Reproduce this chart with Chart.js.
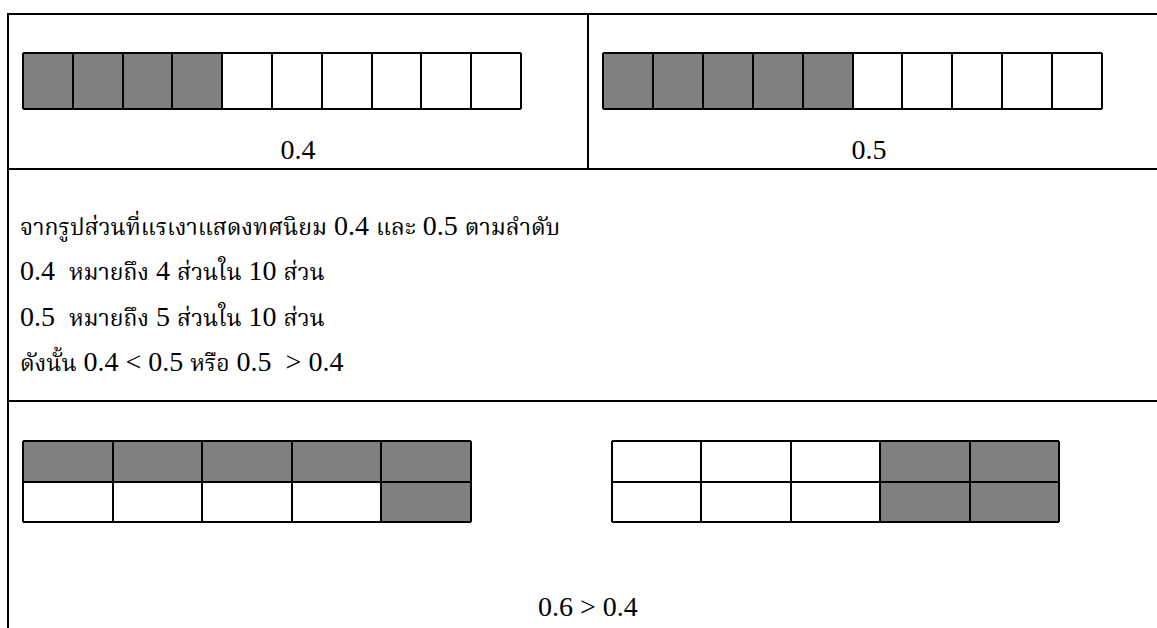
<!DOCTYPE html>
<html><head><meta charset="utf-8">
<script src="https://cdn.jsdelivr.net/npm/chart.js@4"></script>
<style>
html,body{margin:0;padding:0;background:#fff;}
body{width:1157px;height:628px;position:relative;overflow:hidden;font-family:"Liberation Serif","Times New Roman",serif;font-size:28px;color:#000;}
.hl{position:absolute;height:2px;background:#000;}
.vl{position:absolute;width:2px;background:#000;}
.t{position:absolute;line-height:28px;white-space:pre;}
.c{text-align:center;}
.th{font-family:"Kinnari","Norasi","Laksaman","Noto Serif Thai","TH Sarabun New","Angsana New","Liberation Serif",serif;font-size:23px;}
canvas{position:absolute;}
</style></head><body>
<div class="vl" style="left:7px;top:13px;height:615px"></div>
<div class="hl" style="left:7px;top:13px;width:1150px"></div>
<div class="vl" style="left:587px;top:13px;height:156px"></div>
<div class="hl" style="left:7px;top:168px;width:1150px"></div>
<div class="hl" style="left:7px;top:400px;width:1150px"></div>

<canvas id="gA"></canvas>
<canvas id="gB"></canvas>
<canvas id="gC"></canvas>
<canvas id="gD"></canvas>

<div id="labA" class="t c" style="left:9px;width:578px;top:136px"></div>
<div id="labB" class="t c" style="left:589px;width:560px;top:136px"></div>
<div id="line1" class="t" style="left:20px;top:212px"></div>
<div id="line2" class="t" style="left:20px;top:257px"></div>
<div id="line3" class="t" style="left:20px;top:303px"></div>
<div id="line4" class="t" style="left:20px;top:348px"></div>
<div id="concl" class="t" style="left:538px;top:593px"></div>

<script>
// ---- data ----
const decimalLabels = ['0.4', '0.5'];
const gridA = [[1,1,1,1,0,0,0,0,0,0]];          // 0.4 : 4 of 10 shaded
const gridB = [[1,1,1,1,1,0,0,0,0,0]];          // 0.5 : 5 of 10 shaded
const gridC = [[1,1,1,1,1],[0,0,0,0,1]];        // 0.6 : 6 of 10 shaded
const gridD = [[0,0,0,1,1],[0,0,0,1,1]];        // 0.4 : 4 of 10 shaded
const textLines = [
  'จากรูปส่วนที่แรเงาแสดงทศนิยม 0.4 และ 0.5 ตามลำดับ',
  '0.4  หมายถึง 4 ส่วนใน 10 ส่วน',
  '0.5  หมายถึง 5 ส่วนใน 10 ส่วน',
  'ดังนั้น 0.4 < 0.5 หรือ 0.5  > 0.4'
];
const conclusion = '0.6 > 0.4';

// ---- layout / style ----
const SHADE = '#808080';
const boxes = {
  gA: {x: 23,  y: 53,  w: 498, h: 56},
  gB: {x: 603, y: 53,  w: 499, h: 56},
  gC: {x: 23,  y: 441, w: 448, h: 81},
  gD: {x: 612, y: 441, w: 447, h: 81}
};

function setText(id, s) {
  const el = document.getElementById(id);
  el.textContent = '';
  s.split(/([\u0E00-\u0E7F]+)/).forEach(part => {
    if (!part) return;
    if (/[\u0E00-\u0E7F]/.test(part)) {
      const sp = document.createElement('span');
      sp.className = 'th';
      sp.textContent = part;
      el.appendChild(sp);
    } else {
      el.appendChild(document.createTextNode(part));
    }
  });
}
setText('labA', decimalLabels[0]);
setText('labB', decimalLabels[1]);
textLines.forEach((s, i) => setText('line' + (i + 1), s));
setText('concl', conclusion);

function makeGrid(id, cells) {
  const box = boxes[id];
  const pad = 3;
  const cv = document.getElementById(id);
  cv.width = box.w + 2 * pad; cv.height = box.h + 2 * pad;
  cv.style.left = (box.x - pad) + 'px'; cv.style.top = (box.y - pad) + 'px';
  const rows = cells.length;
  const labels = cells[0].map((_, i) => String(i + 1));
  const datasets = cells.map((row, r) => ({
    data: row.map(v => v ? [rows - r - 1, rows - r] : null),
    backgroundColor: SHADE, borderWidth: 0, grouped: false,
    barPercentage: 1, categoryPercentage: 1
  }));
  new Chart(cv, {
    type: 'bar',
    data: {labels, datasets},
    options: {
      responsive: false, animation: false, devicePixelRatio: 1,
      layout: {padding: pad},
      plugins: {legend: {display: false}, tooltip: {enabled: false}},
      scales: {
        x: {type: 'category', offset: true,
            grid: {offset: true, color: '#000', lineWidth: 2, drawTicks: false, z: 1},
            border: {display: false}, ticks: {display: false}},
        y: {type: 'linear', min: 0, max: rows,
            grid: {color: '#000', lineWidth: 2, drawTicks: false, z: 1},
            border: {display: false}, ticks: {display: false, stepSize: 1}}
      }
    }
  });
}
makeGrid('gA', gridA);
makeGrid('gB', gridB);
makeGrid('gC', gridC);
makeGrid('gD', gridD);
</script>
</body></html>
